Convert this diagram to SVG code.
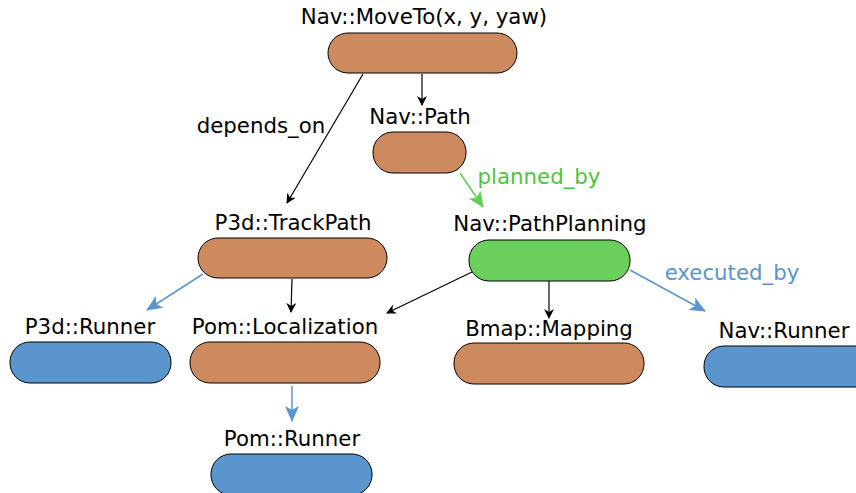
<svg xmlns="http://www.w3.org/2000/svg" width="856" height="493" viewBox="0 0 856 493">
<style>
text{font-family:"DejaVu Sans",sans-serif;font-size:21.3px;text-anchor:middle;fill:#000}
.o{fill:#cd8a5f;stroke:#000;stroke-width:1}
.g{fill:#6acf5d;stroke:#000;stroke-width:1}
.b{fill:#5b95cd;stroke:#000;stroke-width:1}
.e{fill:none;stroke:#000;stroke-width:1.2}
.eb{fill:none;stroke:#5b95cd;stroke-width:1.5}
.eg{fill:none;stroke:#5ccf4d;stroke-width:1.5}
</style>
<defs>
<marker id="ak" markerWidth="10" markerHeight="10" refX="9" refY="5" orient="auto" markerUnits="userSpaceOnUse"><path d="M0,0 L10,5 L0,10 L3,5 Z" fill="#000"/></marker>
<marker id="ab" markerWidth="16" markerHeight="14" refX="15" refY="7" orient="auto" markerUnits="userSpaceOnUse"><path d="M0,0 L16,7 L0,14 L4,7 Z" fill="#5b95cd"/></marker>
<marker id="ag" markerWidth="16" markerHeight="14" refX="15" refY="7" orient="auto" markerUnits="userSpaceOnUse"><path d="M0,0 L16,7 L0,14 L4,7 Z" fill="#5ccf4d"/></marker>
</defs>
<g id="connectors">
<line class="e" x1="422" y1="74" x2="422" y2="105" marker-end="url(#ak)"/>
<line class="e" x1="363" y1="74" x2="287" y2="203" marker-end="url(#ak)"/>
<line class="eg" x1="460" y1="173" x2="483" y2="207" marker-end="url(#ag)"/>
<line class="eb" x1="203" y1="274" x2="147" y2="310" marker-end="url(#ab)"/>
<line class="e" x1="292" y1="279" x2="291" y2="312" marker-end="url(#ak)"/>
<line class="e" x1="472" y1="272" x2="387" y2="313" marker-end="url(#ak)"/>
<line class="e" x1="549" y1="281" x2="549" y2="318" marker-end="url(#ak)"/>
<line class="eb" x1="630" y1="270" x2="705" y2="311" marker-end="url(#ab)"/>
<line class="eb" x1="292" y1="386" x2="292" y2="421" marker-end="url(#ab)"/>
<text x="261" y="133">depends_on</text>
<text x="539" y="184" style="fill:#4ec43d">planned_by</text>
<text x="732" y="280" style="fill:#5b95cd">executed_by</text>
</g>
<g id="moveto"><rect class="o" x="328" y="33" width="189" height="40" rx="20"/><text x="424" y="24">Nav::MoveTo(x, y, yaw)</text></g>
<g id="path"><rect class="o" x="373" y="132" width="93" height="41" rx="20"/><text x="420" y="124">Nav::Path</text></g>
<g id="trackpath"><rect class="o" x="198" y="238" width="189" height="40" rx="20"/><text x="293" y="230">P3d::TrackPath</text></g>
<g id="pathplanning"><rect class="g" x="469" y="240" width="161" height="41" rx="20"/><text x="550" y="231">Nav::PathPlanning</text></g>
<g id="p3drunner"><rect class="b" x="10" y="342" width="161" height="41" rx="20"/><text x="90" y="334">P3d::Runner</text></g>
<g id="localization"><rect class="o" x="190" y="342" width="190" height="41" rx="20"/><text x="285" y="334">Pom::Localization</text></g>
<g id="mapping"><rect class="o" x="454" y="343" width="190" height="41" rx="20"/><text x="549" y="336">Bmap::Mapping</text></g>
<g id="navrunner"><rect class="b" x="704" y="346" width="175" height="41" rx="20"/><text x="784" y="338">Nav::Runner</text></g>
<g id="pomrunner"><rect class="b" x="211" y="454" width="161" height="41" rx="20"/><text x="292" y="446">Pom::Runner</text></g>
</svg>
